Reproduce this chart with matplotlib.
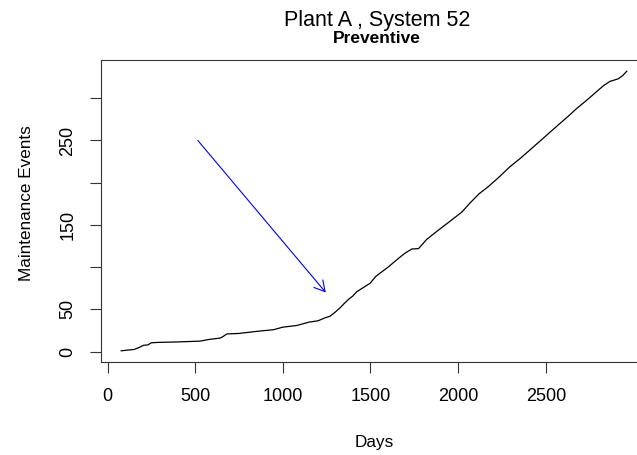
import numpy as np
import matplotlib.pyplot as plt
from matplotlib.patches import FancyArrowPatch

plt.rcParams['font.family'] = ['Liberation Sans', 'DejaVu Sans']

# cumulative preventive maintenance events by day
days = [78, 120, 150, 175, 205, 230, 250, 291, 400, 529, 580, 640, 652, 681, 747,
        850, 947, 1000, 1080, 1150, 1200, 1240, 1270, 1300, 1327, 1350, 1375, 1400,
        1422, 1460, 1498, 1530, 1555, 1600, 1640, 1669, 1700, 1736, 1774, 1800, 1821,
        1870, 1920, 1970, 2020, 2068, 2120, 2170, 2230, 2296, 2350, 2400, 2460, 2520,
        2580, 2630, 2677, 2730, 2780, 2830, 2867, 2914, 2940, 2962]
events = [1, 2, 2.5, 4.5, 7.5, 8, 10.5, 11, 11.5, 12.5, 14.5, 16, 17, 21, 21.5,
          24, 26, 29, 31, 35, 36.5, 40, 42, 47, 52, 57, 62, 66,
          71, 76, 81, 89, 93, 100, 107, 112, 117, 121.5, 122, 128, 133,
          141, 149, 157, 165, 176, 187, 195, 206, 219, 228, 237, 248, 259,
          270, 279, 288, 297, 306, 315, 320, 323, 327, 332]

arrow_from = (515, 250)
arrow_to = (1245, 70)

xticks = [0, 500, 1000, 1500, 2000, 2500]
yticks = [0, 50, 100, 150, 200, 250, 300]
ylabels = ['0', '50', '', '150', '', '250', '']

W, H = 637, 455
fig = plt.figure(figsize=(W / 100, H / 100), dpi=100)
ax = fig.add_axes([101 / W, 1 - 362 / H, (647 - 101) / W, (362 - 60) / H])

ax.plot(days, events, color='black', lw=0.9)

arr = FancyArrowPatch(arrow_from, arrow_to, arrowstyle='->,head_length=7.5,head_width=4.2',
                      mutation_scale=1, color='#0000FF', lw=0.8, shrinkA=0, shrinkB=0)
ax.add_patch(arr)

# R style 4% padding
xr = max(days) - min(days)
yr = max(events) - min(events)
ax.set_xlim(min(days) - 0.04 * xr, max(days) + 0.04 * xr)
ax.set_ylim(min(events) - 0.04 * yr, max(events) + 0.04 * yr)

ax.set_xticks(xticks)
ax.set_yticks(yticks)
ax.set_yticklabels(ylabels, rotation=90, va='center', ha='center')
ax.tick_params(length=8, width=0.8, labelsize=13, color='#333333')
ax.tick_params(axis='x', pad=11)
ax.tick_params(axis='y', pad=16)
for s in ax.spines.values():
    s.set_linewidth(0.8)
    s.set_color('#333333')

fig.text(27 / W, 1 - 203 / H, 'Maintenance Events', rotation=90, ha='center', va='center', fontsize=12.3)
fig.text(374 / W, 1 - 443 / H, 'Days', ha='center', va='center', fontsize=12.3)
fig.text(377 / W, 1 - 26 / H, 'Plant A , System 52', ha='center', va='baseline', fontsize=15.5)
fig.text(377 / W, 1 - 43 / H, 'Preventive', ha='center', va='baseline', fontsize=12.5, fontweight='bold')

fig.savefig('out.png', dpi=100)
